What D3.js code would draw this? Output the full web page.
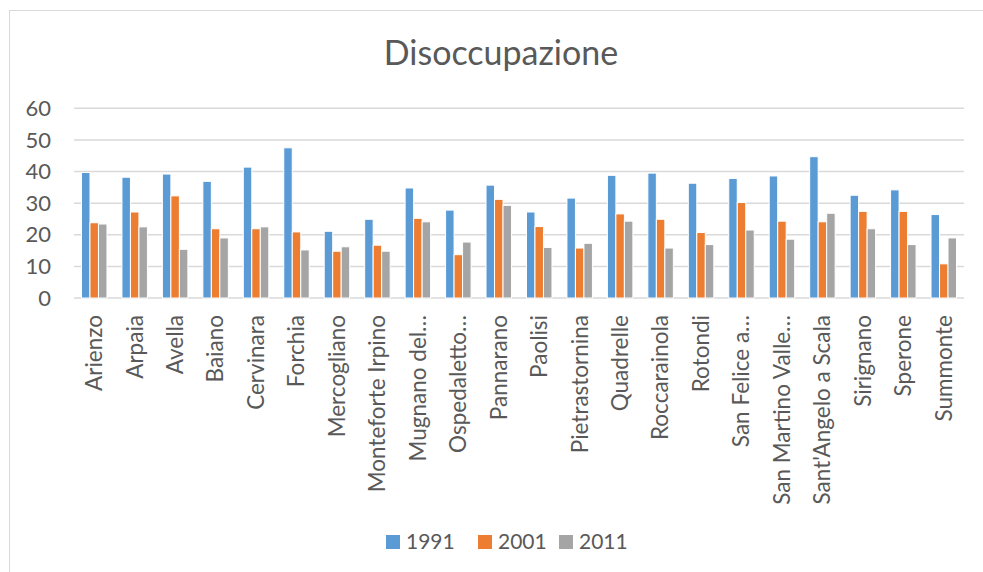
<!DOCTYPE html>
<html>
<head>
<meta charset="utf-8">
<script src="https://cdnjs.cloudflare.com/ajax/libs/d3/7.8.5/d3.min.js"></script>
<style>
  body { margin: 0; background: #fff; }
  text { font-family: Lato, "Open Sans", sans-serif; fill: #595959; }
</style>
</head>
<body>
<div id="chart"></div>
<script>
// comuni (etichette come appaiono nel grafico)
var categories = ["Arienzo", "Arpaia", "Avella", "Baiano", "Cervinara", "Forchia",
  "Mercogliano", "Monteforte Irpino", "Mugnano del\u2026", "Ospedaletto\u2026", "Pannarano",
  "Paolisi", "Pietrastornina", "Quadrelle", "Roccarainola", "Rotondi", "San Felice a\u2026",
  "San Martino Valle\u2026", "Sant'Angelo a Scala", "Sirignano", "Sperone", "Summonte"];

var years = ["1991", "2001", "2011"];
var colors = ["#5B9BD5", "#ED7D31", "#A5A5A5"];

var v1991 = [39.7, 38.2, 39.2, 36.9, 41.4, 47.5, 21.1, 24.9, 34.8, 27.8, 35.7,
  27.2, 31.6, 38.8, 39.5, 36.3, 37.8, 38.6, 44.7, 32.5, 34.2, 26.4];
var v2001 = [23.8, 27.2, 32.3, 21.9, 21.9, 20.9, 14.8, 16.7, 25.2, 13.7, 31.2,
  22.6, 15.8, 26.6, 24.9, 20.7, 30.2, 24.3, 24.1, 27.4, 27.4, 10.8];
var v2011 = [23.4, 22.5, 15.4, 19.0, 22.5, 15.2, 16.2, 14.8, 24.1, 17.7, 29.3,
  16.0, 17.3, 24.3, 15.8, 16.9, 21.5, 18.6, 26.8, 21.9, 16.9, 19.0];

var yTicks = [0, 10, 20, 30, 40, 50, 60];

var series = [v1991, v2001, v2011];

var W = 983, H = 572;
var svg = d3.select("#chart").append("svg")
  .attr("width", W).attr("height", H);

// bordo del grafico (tagliato a destra e in basso)
svg.append("rect")
  .attr("x", 9.5).attr("y", 10.5)
  .attr("width", 1000).attr("height", 600)
  .attr("fill", "none").attr("stroke", "#d9d9d9").attr("stroke-width", 1);

svg.append("text")
  .attr("x", 501).attr("y", 65)
  .attr("text-anchor", "middle")
  .style("font-size", "34px")
  .text("Disoccupazione");

var pLeft = 74, pRight = 964, pTop = 108.3, pBottom = 298;

var x = d3.scaleBand()
  .domain(categories)
  .range([pLeft, pRight])
  .paddingInner(0.37)
  .paddingOuter(0.185);

var xs = d3.scaleBand()
  .domain(years)
  .range([0, x.bandwidth()]);

var y = d3.scaleLinear()
  .domain([0, 60])
  .range([pBottom, pTop]);

// griglia
svg.append("g").selectAll("line")
  .data(yTicks)
  .enter().append("line")
  .attr("x1", pLeft).attr("x2", pRight)
  .attr("y1", function(d){ return y(d); })
  .attr("y2", function(d){ return y(d); })
  .attr("stroke", "#d9d9d9")
  .attr("stroke-width", 1.5);

// etichette asse y
svg.append("g").selectAll("text")
  .data(yTicks)
  .enter().append("text")
  .attr("x", 51)
  .attr("y", function(d){ return y(d); })
  .attr("dy", "0.35em")
  .attr("text-anchor", "end")
  .style("font-size", "22px")
  .text(function(d){ return d; });

// barre
var groups = svg.append("g").selectAll("g")
  .data(categories)
  .enter().append("g")
  .attr("transform", function(d){ return "translate(" + x(d) + ",0)"; });

groups.selectAll("rect")
  .data(function(d, i){
    return years.map(function(yr, j){ return {year: yr, value: series[j][i], c: colors[j]}; });
  })
  .enter().append("rect")
  .attr("x", function(d){ return xs(d.year); })
  .attr("y", function(d){ return y(d.value); })
  .attr("width", xs.bandwidth())
  .attr("height", function(d){ return y(0) - y(d.value); })
  .attr("fill", function(d){ return d.c; })
  .attr("stroke", "#fff")
  .attr("stroke-width", 1);

// etichette categorie ruotate
svg.append("g").selectAll("text")
  .data(categories)
  .enter().append("text")
  .attr("transform", function(d){
    return "translate(" + (x(d) + x.bandwidth() / 2) + ",315) rotate(-90)";
  })
  .attr("dy", "0.35em")
  .attr("text-anchor", "end")
  .style("font-size", "22.5px")
  .text(function(d){ return d; });

// legenda
var legX = [386, 478, 559];
var leg = svg.append("g").selectAll("g")
  .data(years)
  .enter().append("g")
  .attr("transform", function(d, i){ return "translate(" + legX[i] + ",535)"; });

leg.append("rect")
  .attr("width", 14).attr("height", 14)
  .attr("fill", function(d, i){ return colors[i]; });

leg.append("text")
  .attr("x", 20).attr("y", 14)
  .style("font-size", "21px")
  .text(function(d){ return d; });
</script>
</body>
</html>
